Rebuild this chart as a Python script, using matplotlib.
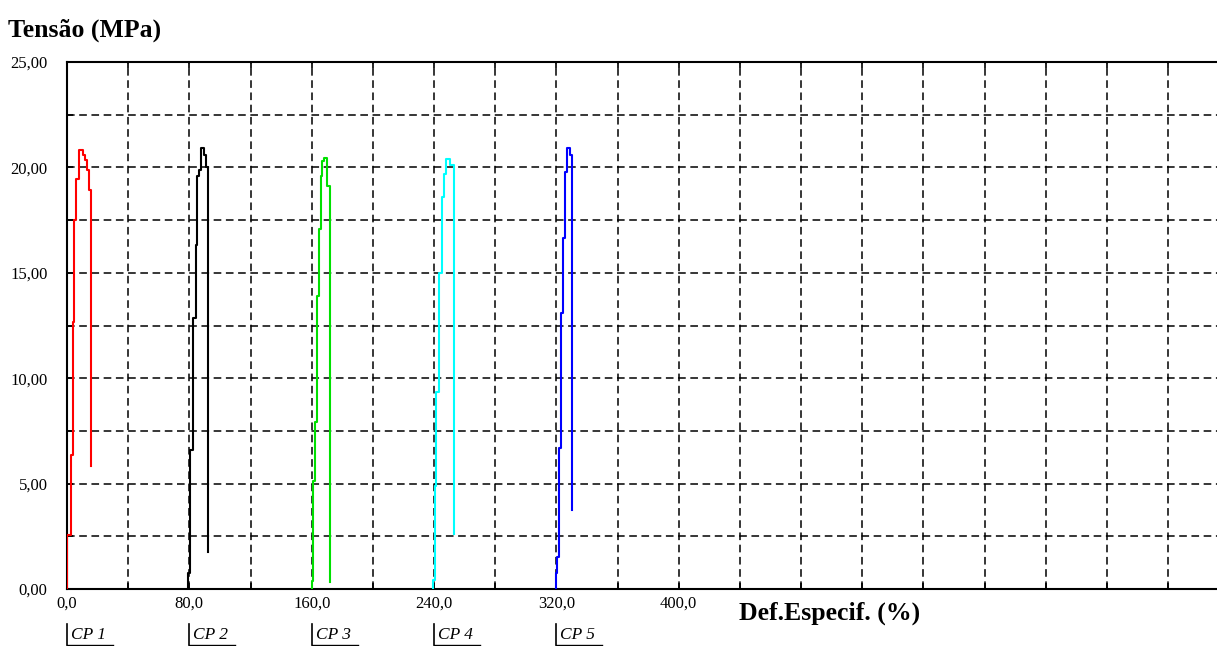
import matplotlib
matplotlib.use('Agg')

import matplotlib.pyplot as plt
import matplotlib.transforms as mtransforms
import numpy as np

# curvas tensao x deformacao (leitura aproximada do grafico)
cp1_def = [0.0, 0.2, 2.4, 3.7, 4.6, 5.9, 8.0, 10.7, 11.6, 12.9, 14.2, 15.9, 15.9]
cp1_ten = [0.0, 0.0, 2.56, 6.36, 12.67, 17.5, 19.45, 20.83, 20.6, 20.35, 19.88, 18.93, 5.83]

cp2_def = [79.4, 80.4, 82.2, 84.1, 85.2, 86.3, 87.6, 89.7, 90.7, 92.2, 92.2]
cp2_ten = [0.0, 0.76, 6.6, 12.86, 16.3, 19.6, 19.9, 20.9, 20.6, 20.0, 1.75]

cp3_def = [159.9, 161.0, 162.1, 163.2, 164.7, 166.0, 166.9, 168.0, 169.7, 171.9, 171.9]
cp3_ten = [0.0, 0.4, 5.1, 7.9, 13.9, 17.1, 19.6, 20.3, 20.45, 19.1, 0.35]

cp4_def = [239.4, 240.5, 241.6, 243.1, 244.9, 246.6, 247.7, 250.3, 252.9, 252.9]
cp4_ten = [0.0, 0.43, 4.9, 9.35, 15.0, 18.6, 19.7, 20.4, 20.1, 2.6]

cp5_def = [319.6, 320.7, 321.8, 323.3, 324.4, 325.9, 327.0, 329.2, 330.5, 330.5]
cp5_ten = [0.0, 0.76, 1.5, 6.7, 13.1, 16.65, 19.8, 20.9, 20.6, 3.75]

nomes = ['CP 1', 'CP 2', 'CP 3', 'CP 4', 'CP 5']
inicios = [0.0, 80.0, 160.0, 240.0, 320.0]
cores = ['#ff0000', '#000000', '#00e000', '#00ffff', '#0000ff']

x_ticks_rot = [0.0, 80.0, 160.0, 240.0, 320.0, 400.0]
y_ticks_rot = [0.0, 5.0, 10.0, 15.0, 20.0, 25.0]

serif = 'Liberation Serif'

fig = plt.figure(figsize=(12.17, 6.46), dpi=100)
ax = fig.add_axes([67 / 1217, 57 / 646, 1150 / 1217, 527 / 646])

curvas = [(cp1_def, cp1_ten), (cp2_def, cp2_ten), (cp3_def, cp3_ten),
          (cp4_def, cp4_ten), (cp5_def, cp5_ten)]
for (d, t), cor in zip(curvas, cores):
    ax.plot(d, t, color=cor, linewidth=1.5, drawstyle='steps-pre', zorder=3)

ax.set_xlim(0, 752)
ax.set_ylim(0, 25)

# grade tracejada a cada 40 (x) e 2,5 (y)
xt = np.arange(0, 760, 40)
yt = np.arange(0, 25.01, 2.5)
ax.set_xticks(xt)
ax.set_yticks(yt)
ax.set_xticklabels([('%.1f' % v).replace('.', ',') if v in x_ticks_rot else '' for v in xt],
                   fontfamily=serif, fontsize=12)
ax.set_yticklabels([('%.2f' % v).replace('.', ',') if v in y_ticks_rot else '' for v in yt],
                   fontfamily=serif, fontsize=12)
ax.grid(True, color='black', linestyle=(0, (5, 3)), linewidth=1.1)
ax.tick_params(direction='in', length=4, width=1.2, top=True, pad=5)
ax.tick_params(axis='y', pad=14)

for lado in ['left', 'bottom', 'top']:
    ax.spines[lado].set_linewidth(1.5)
ax.spines['right'].set_visible(False)

fig.text(8 / 1217, 1 - 30 / 646, 'Tensão (MPa)', fontfamily=serif, fontsize=18.5,
         fontweight='bold', va='center', ha='left')
fig.text(739 / 1217, 1 - 613 / 646, 'Def.Especif. (%)', fontfamily=serif, fontsize=18.5,
         fontweight='bold', va='center', ha='left')

# rotulos dos corpos de prova abaixo do eixo
trans = mtransforms.blended_transform_factory(ax.transData, ax.transAxes)
for nome, x0 in zip(nomes, inicios):
    ax.plot([x0, x0], [-0.066, -0.106], color='black', linewidth=1.2,
            transform=trans, clip_on=False)
    ax.plot([x0, x0 + 30], [-0.106, -0.106], color='black', linewidth=1.0,
            transform=trans, clip_on=False)
    ax.text(x0 + 2.5, -0.088, nome, transform=trans, fontfamily=serif, fontsize=12.5,
            fontstyle='italic', va='center', ha='left')

fig.savefig('out.png', dpi=100)
